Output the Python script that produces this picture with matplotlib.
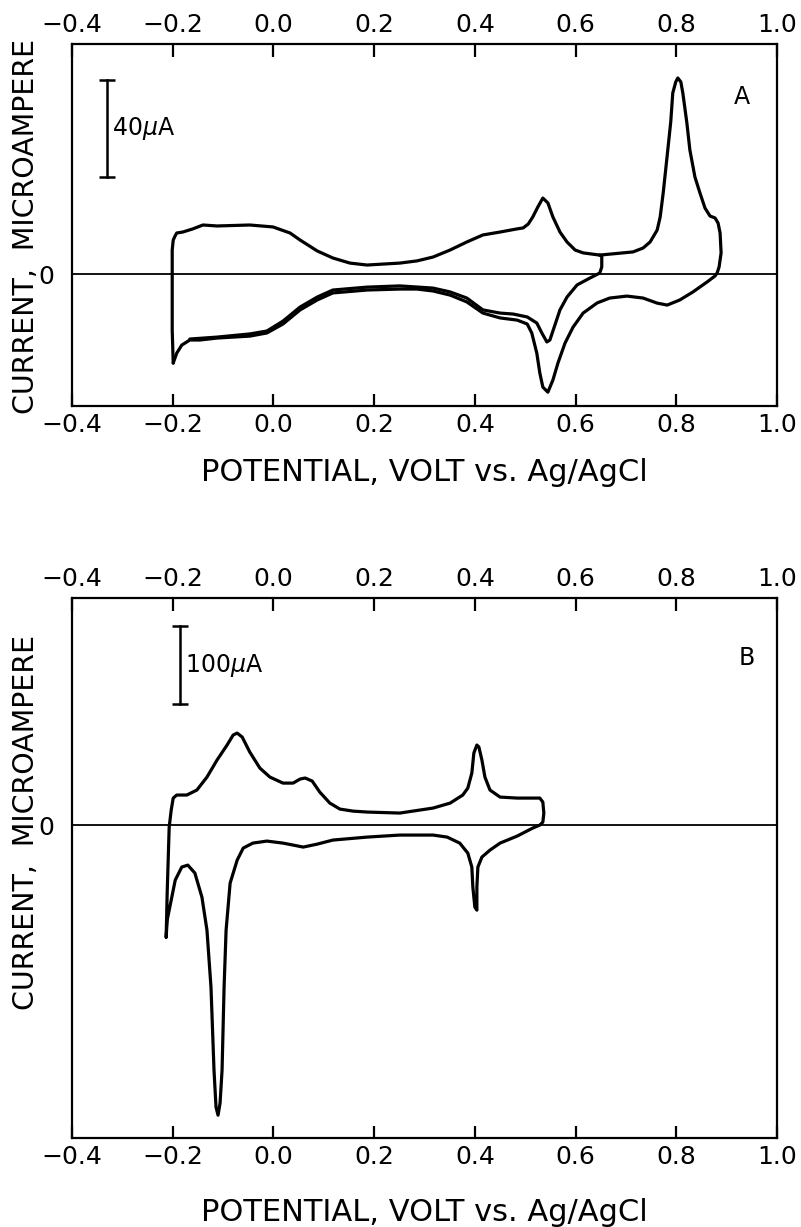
import matplotlib
matplotlib.use("Agg")
import matplotlib.pyplot as plt

plt.rcParams['font.family'] = ['DejaVu Sans']
plt.rcParams['mathtext.fontset'] = 'dejavusans'

# ---------------- Panel A data (V vs Ag/AgCl, microampere) ----------------
# anodic sweep from -0.2 V up to 0.65 V (shared by both cycles)
a_anodic_v = [-0.199, -0.201, -0.201, -0.201, -0.201, -0.199, -0.195, -0.192, -0.180, -0.160,
              -0.140, -0.112, -0.047, -0.001, 0.033, 0.053, 0.087, 0.118, 0.152, 0.186,
              0.218, 0.251, 0.285, 0.317, 0.351, 0.384, 0.416, 0.450, 0.484, 0.496,
              0.506, 0.515, 0.525, 0.535, 0.545, 0.555, 0.569, 0.583, 0.599, 0.615,
              0.648]
a_anodic_i = [-36.7, -23.1, -10.7, 1.6, 9.9, 14.0, 15.8, 16.9, 17.3, 18.6,
              20.2, 19.8, 20.2, 19.4, 16.9, 14.0, 9.5, 6.6, 4.5, 3.7,
              4.1, 4.5, 5.4, 7.0, 9.9, 13.2, 16.1, 17.3, 18.6, 19.0,
              20.6, 23.5, 27.6, 31.3, 29.3, 23.5, 17.3, 13.2, 9.9, 8.7,
              7.8]
# continuation of the anodic sweep up to 0.89 V and the full return (outer cycle)
a_outer_v = [0.648, 0.714, 0.734, 0.748, 0.762, 0.768, 0.774, 0.781, 0.789, 0.793,
             0.799, 0.803, 0.809, 0.813, 0.821, 0.827, 0.837, 0.847, 0.857, 0.867,
             0.877, 0.883, 0.887, 0.889, 0.885, 0.881,
             0.877, 0.861, 0.833, 0.807, 0.782, 0.762, 0.734, 0.702, 0.668, 0.643,
             0.615, 0.595, 0.579, 0.565, 0.555, 0.545, 0.535, 0.529, 0.523, 0.513,
             0.504, 0.484, 0.450, 0.416, 0.384, 0.351, 0.317, 0.285, 0.251, 0.186,
             0.118, 0.087, 0.053, 0.019, -0.013, -0.047, -0.080, -0.112, -0.146, -0.166,
             -0.182, -0.192, -0.199]
a_outer_i = [7.8, 9.1, 10.7, 13.2, 18.1, 23.5, 33.4, 47.0, 62.7, 74.6,
             79.2, 80.8, 79.2, 74.6, 62.3, 51.1, 40.0, 33.4, 27.2, 23.9,
             23.1, 21.0, 16.9, 8.7, 2.9, 0.4,
             -0.8, -3.3, -7.4, -10.7, -12.8, -12.0, -9.9, -9.1, -9.9, -11.9,
             -16.1, -21.9, -28.5, -36.7, -43.7, -48.7, -46.6, -40.8, -32.6, -24.3,
             -20.6, -19.0, -18.1, -16.1, -11.5, -8.7, -7.0, -6.2, -6.2, -6.6,
             -7.8, -10.7, -14.8, -20.6, -24.3, -25.6, -26.0, -26.4, -27.2, -27.2,
             -29.3, -32.6, -36.7]
# return sweep reversed at 0.65 V (inner cycle)
a_inner_v = [0.648, 0.652, 0.652, 0.648, 0.629, 0.603, 0.583, 0.569, 0.559, 0.549,
             0.543, 0.533, 0.523, 0.504, 0.476, 0.450, 0.416, 0.384, 0.351, 0.317,
             0.251, 0.186, 0.118, 0.087, 0.053, 0.019, -0.013, -0.047, -0.112, -0.166]
a_inner_i = [7.8, 7.4, 2.9, 0.4, -1.6, -4.5, -9.5, -14.8, -21.0, -27.2,
             -28.0, -24.3, -20.2, -17.7, -16.5, -16.1, -14.8, -9.9, -7.4, -5.8,
             -4.9, -5.4, -6.6, -9.5, -13.6, -19.4, -23.5, -24.7, -26.0, -26.8]

# ---------------- Panel B data ----------------
b_v = [-0.213, -0.211, -0.209, -0.207, -0.203, -0.199, -0.192, -0.172, -0.152, -0.132,
       -0.112, -0.092, -0.080, -0.072, -0.062, -0.047, -0.027, -0.007, 0.019, 0.039,
       0.053, 0.063, 0.077, 0.092, 0.112, 0.132, 0.158, 0.186, 0.251, 0.317,
       0.351, 0.376, 0.386, 0.394, 0.398, 0.404, 0.408, 0.414, 0.420, 0.430,
       0.450, 0.484, 0.529, 0.535, 0.537, 0.535, 0.529,
       0.515, 0.484, 0.450, 0.430, 0.414, 0.406, 0.404, 0.404, 0.400, 0.396,
       0.394, 0.386, 0.370, 0.345, 0.317, 0.251, 0.186, 0.118, 0.087, 0.059,
       0.039, 0.019, -0.013, -0.041, -0.060, -0.072, -0.086, -0.094, -0.098, -0.102,
       -0.106, -0.110, -0.114, -0.118, -0.124, -0.132, -0.142, -0.156, -0.170, -0.182,
       -0.195, -0.203, -0.211, -0.213]
b_i = [-143.6, -87.2, -44.9, -2.6, 19.2, 34.6, 38.5, 38.5, 44.9, 61.5,
       83.3, 102.6, 115.4, 117.9, 112.8, 93.6, 73.1, 61.5, 53.8, 53.8,
       59.0, 60.3, 56.4, 42.3, 28.2, 20.5, 17.9, 16.7, 15.4, 21.8,
       28.2, 38.5, 47.4, 66.7, 92.3, 102.6, 100.0, 83.3, 61.5, 44.9,
       35.9, 34.6, 34.6, 29.5, 15.4, 3.8, 0.0,
       -3.8, -14.1, -23.1, -32.1, -41.0, -53.8, -79.5, -109.0, -105.1, -79.5,
       -53.8, -35.9, -23.1, -15.4, -12.8, -12.8, -15.4, -19.2, -24.4, -28.2,
       -25.6, -23.1, -20.5, -23.1, -29.5, -44.9, -74.4, -134.6, -207.7, -314.1,
       -356.4, -371.8, -361.5, -314.1, -207.7, -134.6, -92.3, -61.5, -51.3, -53.8,
       -70.5, -96.2, -121.8, -143.6]

xticks = [-0.4, -0.2, 0.0, 0.2, 0.4, 0.6, 0.8, 1.0]
xticklabels = ['\u22120.4', '\u22120.2', '0.0', '0.2', '0.4', '0.6', '0.8', '1.0']

scale_a = 40   # microampere
scale_b = 100  # microampere

fig = plt.figure(figsize=(8.01, 12.27), dpi=100)
W, H = 801, 1227

def make_axes(top_px, bot_px):
    left, right = 72, 777
    return fig.add_axes([left / W, 1 - bot_px / H, (right - left) / W, (bot_px - top_px) / H])

axA = make_axes(44, 406)
axB = make_axes(598, 1138)

LW = 2.3
TICKFS = 18
LABELFS = 20.5

def style(ax, ylim, ylabel_y, xlabel_y):
    ax.set_xlim(-0.4, 1.0)
    ax.set_ylim(*ylim)
    ax.axhline(0, color='black', lw=1.3, zorder=1)
    for s in ax.spines.values():
        s.set_linewidth(1.6)
    ax.set_xticks(xticks)
    ax.set_xticklabels(xticklabels)
    ax.tick_params(axis='x', direction='in', length=9, width=1.6,
                   top=True, labeltop=True, bottom=True, labelbottom=True,
                   labelsize=TICKFS, pad=5)
    ax.set_yticks([0])
    ax.set_yticklabels(['0'])
    ax.tick_params(axis='y', length=0, labelsize=TICKFS, pad=13)
    ax.set_xlabel('POTENTIAL, VOLT vs. Ag/AgCl', fontsize=22)
    ax.xaxis.set_label_coords(0.5, xlabel_y)
    ax.set_ylabel('CURRENT,  MICROAMPERE', fontsize=LABELFS)
    ax.yaxis.set_label_coords(-0.045, ylabel_y)

style(axA, (-54.4, 94.8), 0.497, -0.145)
style(axB, (-401, 291), 0.585, -0.112)

# Panel A curves
axA.plot(a_anodic_v, a_anodic_i, color='black', lw=LW, solid_joinstyle='round', solid_capstyle='round')
axA.plot(a_outer_v, a_outer_i, color='black', lw=LW, solid_joinstyle='round', solid_capstyle='round')
axA.plot(a_inner_v, a_inner_i, color='black', lw=LW, solid_joinstyle='round', solid_capstyle='round')

# Panel B curve
axB.plot(b_v, b_i, color='black', lw=LW, solid_joinstyle='round', solid_capstyle='round')

# scale bars
axA.plot([-0.330, -0.330], [40, 40 + scale_a], color='black', lw=1.8,
         marker='_', ms=12, mew=1.8)
axA.text(-0.320, 40 + scale_a / 2, '%d$\\mu$A' % scale_a, fontsize=17,
         va='center', ha='left')
axB.plot([-0.186, -0.186], [155, 155 + scale_b], color='black', lw=1.8,
         marker='_', ms=12, mew=1.8)
axB.text(-0.176, 155 + scale_b / 2, '%d$\\mu$A' % scale_b, fontsize=17,
         va='center', ha='left')

axA.text(0.93, 73, 'A', fontsize=17, ha='center', va='center')
axB.text(0.94, 214, 'B', fontsize=17, ha='center', va='center')

fig.savefig('out.png', dpi=100, facecolor='white')
